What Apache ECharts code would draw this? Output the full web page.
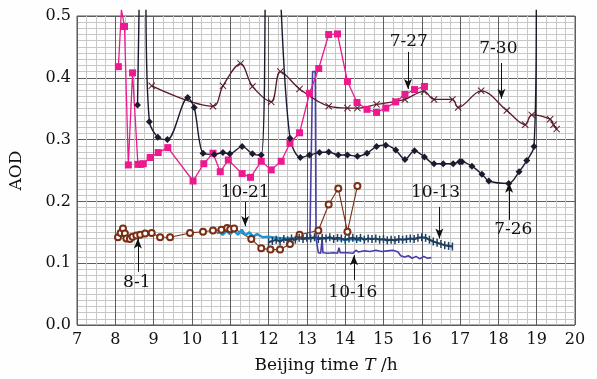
<!DOCTYPE html>
<html>
<head>
<meta charset="utf-8">
<script src="https://cdn.jsdelivr.net/npm/echarts@6/dist/echarts.min.js"></script>
<style>
  html, body { margin: 0; padding: 0; background: #fefefe; }
  #main { width: 597px; height: 379px; }
</style>
</head>
<body>
<div id="main"></div>
<script>
// AOD values, [hour, AOD]; '-' breaks the line where it leaves the plot
var d0726 = [[8.58,0.356],[8.62,0.51],[8.7,'-'],[8.80,0.51],[8.89,0.329],[9.11,0.304],[9.36,0.300],
    [9.89,0.368],[10.06,0.352],[10.29,0.278],[10.58,0.276],[10.81,0.279],[10.99,0.277],[11.31,0.289],
    [11.58,0.277],[11.81,0.275],[11.91,0.51],[12.1,'-'],[12.33,0.51],[12.56,0.302],[12.83,0.271],
    [13.07,0.275],[13.33,0.279],[13.57,0.280],[13.82,0.275],[14.06,0.275],[14.32,0.273],[14.57,0.278],
    [14.82,0.289],[15.06,0.291],[15.32,0.283],[15.56,0.268],[15.81,0.282],[16.07,0.272],[16.32,0.261],
    [16.56,0.261],[16.82,0.261],[16.99,0.264],[17.05,0.264],[17.31,0.257],[17.57,0.244],[17.75,0.233],
    [18.27,0.229],[18.54,0.248],[18.74,0.266],[18.93,0.289],[18.99,0.51]];

var d0727 = [[8.08,0.418],[8.16,0.51],[8.24,0.483],[8.34,0.259],[8.45,0.408],[8.59,0.260],[8.66,0.260],
    [8.73,0.261],[8.91,0.271],[9.12,0.279],[9.37,0.287],[10.03,0.233],[10.31,0.261],[10.55,0.278],
    [10.74,0.248],[10.95,0.267],[11.31,0.245],[11.53,0.239],[11.81,0.265],[12.07,0.251],[12.33,0.265],
    [12.56,0.294],[12.81,0.311],[13.07,0.375],[13.31,0.415],[13.57,0.470],[13.80,0.471],[14.06,0.394],
    [14.31,0.360],[14.57,0.349],[14.82,0.344],[15.06,0.351],[15.32,0.361],[15.56,0.373],[15.81,0.381],
    [16.07,0.386]];

var d0730 = [[8.95,0.387],[10.55,0.354],[10.81,0.387],[11.27,0.423],[11.58,0.386],[12.07,0.361],
    [12.31,0.410],[12.81,0.382],[13.57,0.354],[14.06,0.351],[14.32,0.351],[14.82,0.357],[15.32,0.362],
    [15.56,0.365],[16.06,0.378],[16.32,0.365],[16.80,0.365],[16.95,0.352],[17.55,0.379],[18.22,0.347],
    [18.70,0.324],[18.87,0.340],[19.35,0.333],[19.44,0.324],[19.52,0.317]];

var d0801 = [[8.07,0.142],[8.14,0.149],[8.20,0.156],[8.25,0.148],[8.29,0.140],[8.38,0.139],[8.45,0.143],
    [8.55,0.145],[8.65,0.146],[8.78,0.148],[8.95,0.149],[9.17,0.142],[9.43,0.142],[9.95,0.149],
    [10.29,0.151],[10.55,0.153],[10.77,0.154],[10.92,0.157],[11.00,0.155],[11.10,0.156],[11.55,0.139],
    [11.81,0.124],[12.05,0.122],[12.30,0.122],[12.56,0.131],[12.81,0.146],[13.30,0.153],[13.57,0.195],
    [13.82,0.221],[14.06,0.151],[14.32,0.225]];

var d1021 = [[10.65,0.148],[10.72,0.151],[10.80,0.146],[10.90,0.152],[11.00,0.147],[11.10,0.153],
    [11.20,0.146],[11.30,0.154],[11.40,0.145],[11.50,0.150],[11.60,0.143],[11.70,0.147],[11.85,0.142],
    [12.00,0.143],[12.20,0.141],[12.40,0.140],[12.60,0.140],[12.80,0.141],[13.00,0.140],[13.20,0.141],
    [13.40,0.140],[13.60,0.141],[13.80,0.139],[14.00,0.138],[14.20,0.139],[14.40,0.137]];

var d1013 = [[12.00,0.134],[12.10,0.136],[12.20,0.138],[12.30,0.135],[12.40,0.139],[12.50,0.137],
    [12.60,0.140],[12.70,0.138],[12.80,0.141],[12.90,0.139],[13.00,0.141],[13.10,0.140],[13.20,0.142],
    [13.30,0.139],[13.40,0.141],[13.50,0.140],[13.60,0.142],[13.70,0.139],[13.80,0.141],[13.90,0.140],
    [14.00,0.138],[14.10,0.140],[14.20,0.141],[14.30,0.139],[14.40,0.141],[14.50,0.138],[14.60,0.140],
    [14.70,0.139],[14.80,0.140],[14.90,0.138],[15.00,0.139],[15.10,0.137],[15.20,0.138],[15.30,0.137],
    [15.40,0.139],[15.50,0.138],[15.60,0.139],[15.70,0.140],[15.80,0.139],[15.90,0.141],[16.00,0.142],
    [16.10,0.141],[16.20,0.138],[16.30,0.135],[16.40,0.133],[16.50,0.131],[16.60,0.129],[16.70,0.128],
    [16.80,0.127]];

var d1016 = [[13.08,0.140],[13.12,0.143],[13.15,0.410],[13.22,0.410],[13.24,0.140],[13.27,0.138],
    [13.30,0.117],[13.36,0.116],[13.40,0.139],[13.42,0.117],[13.55,0.116],[13.70,0.117],[13.80,0.116],
    [13.84,0.125],[13.87,0.117],[14.05,0.117],[14.20,0.116],[14.28,0.121],[14.35,0.118],[14.50,0.120],
    [14.65,0.119],[14.80,0.121],[14.95,0.119],[15.10,0.120],[15.25,0.121],[15.38,0.118],[15.45,0.112],
    [15.55,0.110],[15.65,0.112],[15.75,0.108],[15.85,0.111],[15.95,0.107],[16.05,0.111],[16.15,0.108],
    [16.25,0.109]];

// labels: text position and arrow tail -> tip (data coords)
var noteText = ['7-27', '7-30', '7-26', '10-13', '10-16', '10-21', '8-1'];
var notePos = [[15.66,0.458],[18.00,0.447],[18.39,0.154],[16.36,0.214],[14.20,0.052],[11.39,0.215],[8.56,0.068]];
var arrowFrom = [[15.64,0.442],[18.08,0.424],[18.28,0.170],[16.46,0.191],[14.23,0.073],[11.39,0.199],[8.59,0.086]];
var arrowTo = [[15.64,0.382],[18.08,0.366],[18.28,0.230],[16.46,0.140],[14.23,0.113],[11.39,0.160],[8.59,0.140]];

var xTicks = [7, 20, 1];
var yTicks = [0, 0.5, 0.1];

var FONT = 'DejaVu Serif';
var crossMark = 'path://M0,1L1,0L5,4L9,0L10,1L6,5L10,9L9,10L5,6L1,10L0,9L4,5Z';

function sym(shape) {
    return function (v) { return v[1] > 0.5 ? 'none' : shape; };
}

var chart = echarts.init(document.getElementById('main'));

var option = {
    animation: false,
    backgroundColor: '#fefefe',
    textStyle: { fontFamily: FONT, color: '#111' },
    grid: { left: 75, right: 22, top: 16, bottom: 54, show: true, borderColor: '#555', borderWidth: 1 },
    xAxis: {
        type: 'value', min: xTicks[0], max: xTicks[1], interval: xTicks[2],
        name: 'Beijing time {i|T} /h', nameLocation: 'middle', nameGap: 32,
        nameTextStyle: { fontFamily: FONT, fontSize: 17, color: '#111',
            rich: { i: { fontFamily: FONT, fontSize: 17, fontStyle: 'italic', color: '#111' } } },
        axisLine: { show: false },
        axisTick: { show: false },
        axisLabel: { fontFamily: FONT, fontSize: 16, color: '#111', margin: 7 },
        splitLine: { show: true, lineStyle: { color: '#5e5e5e', width: 1 } },
        minorTick: { show: false, splitNumber: 4 },
        minorSplitLine: { show: true, lineStyle: { color: '#c8c8c8', width: 1 } }
    },
    yAxis: {
        type: 'value', min: yTicks[0], max: yTicks[1], interval: yTicks[2],
        name: 'AOD', nameLocation: 'middle', nameGap: 52, nameRotate: 90,
        nameTextStyle: { fontFamily: FONT, fontSize: 17, color: '#111' },
        axisLine: { show: false },
        axisTick: { show: false },
        axisLabel: { fontFamily: FONT, fontSize: 16, color: '#111', margin: 6,
            formatter: function (v) { return v.toFixed(1); } },
        splitLine: { show: true, lineStyle: { color: '#5e5e5e', width: 1 } },
        minorTick: { show: false, splitNumber: 10 },
        minorSplitLine: { show: true, lineStyle: { color: '#c8c8c8', width: 1 } }
    },
    series: [
        {
            name: '8-1', type: 'line', data: d0801, clip: false,
            symbol: 'emptyCircle', symbolSize: 6,
            lineStyle: { color: '#7a2e14', width: 1.1 },
            itemStyle: { color: '#7a2e14', borderWidth: 1 }
        },
        {
            name: '10-21', type: 'line', data: d1021, showSymbol: false,
            lineStyle: { color: '#1c97d4', width: 2.5 }
        },
        {
            name: '10-13', type: 'line', data: d1013,
            symbol: 'rect', symbolSize: [1.5, 8],
            lineStyle: { color: '#1f3f60', width: 2.2 },
            itemStyle: { color: '#1f3f60' }
        },
        {
            name: '10-16', type: 'line', data: d1016, showSymbol: false,
            lineStyle: { color: '#4a3fa8', width: 1.6 }
        },
        {
            name: '7-30', type: 'line', data: d0730, smooth: 0.35,
            symbol: crossMark, symbolSize: 7,
            lineStyle: { color: '#5a1a2a', width: 1.3 },
            itemStyle: { color: '#5a1a2a' }
        },
        {
            name: '7-27', type: 'line', data: d0727, clip: false,
            symbol: sym('rect'), symbolSize: 7,
            lineStyle: { color: '#ec1a8e', width: 1.3 },
            itemStyle: { color: '#ec1a8e' }
        },
        {
            name: '7-26', type: 'line', data: d0726, clip: false, smooth: 0.3,
            symbol: sym('diamond'), symbolSize: 7,
            lineStyle: { color: '#1b1b30', width: 1.4 },
            itemStyle: { color: '#1b1b30' }
        },
        {
            name: 'notes', type: 'line', data: [],
            markLine: {
                silent: true, symbol: ['none', 'arrow'], symbolSize: [6, 10],
                lineStyle: { color: '#111', width: 1, type: 'solid' },
                label: { show: false },
                data: arrowFrom.map(function (p, i) { return [{ coord: p }, { coord: arrowTo[i] }]; })
            },
            markPoint: {
                silent: true, symbol: 'circle', symbolSize: 1,
                itemStyle: { color: 'rgba(0,0,0,0)' },
                label: { show: true, position: 'inside', fontFamily: FONT, fontSize: 17, color: '#111',
                    formatter: function (p) { return p.name; } },
                data: noteText.map(function (t, i) { return { name: t, coord: notePos[i] }; })
            }
        }
    ]
};

chart.setOption(option);
</script>
</body>
</html>
